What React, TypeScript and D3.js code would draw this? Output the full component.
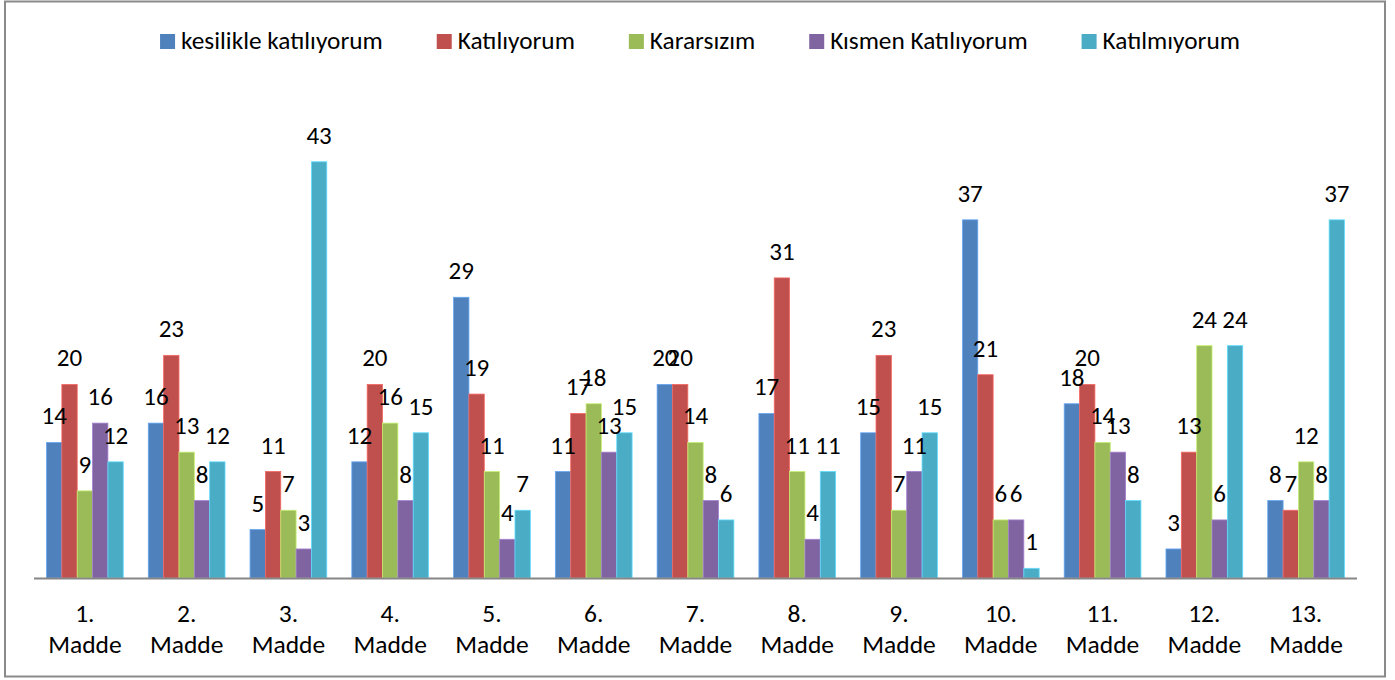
import React, { useEffect, useRef } from "react";
import * as d3 from "d3";

const categories = ["1.", "2.", "3.", "4.", "5.", "6.", "7.", "8.", "9.", "10.", "11.", "12.", "13."];
const seriesNames = ["kesilikle katılıyorum", "Katılıyorum", "Kararsızım", "Kısmen Katılıyorum", "Katılmıyorum"];
const kesinlikle = [14, 16, 5, 12, 29, 11, 20, 17, 15, 37, 18, 3, 8];
const katiliyorum = [20, 23, 11, 20, 19, 17, 20, 31, 23, 21, 20, 13, 7];
const kararsizim = [9, 13, 7, 16, 11, 18, 14, 11, 7, 6, 14, 24, 12];
const kismen = [16, 8, 3, 8, 4, 13, 8, 4, 11, 6, 13, 6, 8];
const katilmiyorum = [12, 12, 43, 15, 7, 15, 6, 11, 15, 1, 8, 24, 37];
const colors = ["#4F81BD", "#C0504D", "#9BBB59", "#8064A2", "#4BACC6"];

const W = 1395;
const H = 680;
const FONT = "Calibri, Carlito, Lato, sans-serif";

export default function App() {
  const ref = useRef<SVGSVGElement>(null);
  useEffect(() => {
    document.body.style.margin = "0";
    const svg = d3.select(ref.current);
    svg.selectAll("*").remove();
    const series = [kesinlikle, katiliyorum, kararsizim, kismen, katilmiyorum];

    svg.append("rect").attr("x", 5).attr("y", 1.5).attr("width", 1380).attr("height", 675)
      .attr("fill", "#fff").attr("stroke", "#8a8a8a").attr("stroke-width", 2);

    const x0 = d3.scaleBand<string>().domain(categories).range([34, 1357]).paddingInner(0.246).paddingOuter(0.123);
    const x1 = d3.scaleBand<number>().domain(d3.range(series.length)).range([0, x0.bandwidth()]);
    const y = d3.scaleLinear().domain([0, 50]).range([578, 94]);

    const g = svg.append("g");
    categories.forEach((c, i) => {
      series.forEach((s, k) => {
        const v = s[i];
        const bx = (x0(c) as number) + (x1(k) as number);
        g.append("rect").attr("x", bx).attr("y", y(v)).attr("width", x1.bandwidth())
          .attr("height", y(0) - y(v)).attr("fill", colors[k])
          .attr("stroke", d3.color(colors[k])!.brighter(0.7).formatHex()).attr("stroke-width", 0.8);
      });
    });
    categories.forEach((c, i) => {
      series.forEach((s, k) => {
        const v = s[i];
        const cx = (x0(c) as number) + (x1(k) as number) + x1.bandwidth() / 2;
        g.append("text").attr("x", cx).attr("y", y(v) - 18).attr("text-anchor", "middle")
          .attr("font-family", FONT).attr("font-size", 25).attr("fill", "#000").text(String(v));
      });
    });

    svg.append("line").attr("x1", 34).attr("x2", 1357).attr("y1", 578.5).attr("y2", 578.5)
      .attr("stroke", "#868686").attr("stroke-width", 2);

    categories.forEach((c) => {
      const cx = (x0(c) as number) + x0.bandwidth() / 2;
      const t = svg.append("text").attr("text-anchor", "middle").attr("font-family", FONT)
        .attr("font-size", 25.5).attr("fill", "#000");
      t.append("tspan").attr("x", cx).attr("y", 622).text(c);
      t.append("tspan").attr("x", cx).attr("y", 653).text("Madde");
    });

    // legend
    const lg = svg.append("g");
    const items = seriesNames.map((name, k) => {
      const it = lg.append("g");
      it.append("rect").attr("x", 0).attr("y", 34).attr("width", 15).attr("height", 15).attr("fill", colors[k]);
      const t = it.append("text").attr("x", 21).attr("y", 49).attr("font-family", FONT)
        .attr("font-size", 25.3).attr("fill", "#000").text(name);
      const w = 21 + (t.node() as SVGTextElement).getComputedTextLength();
      return { it, w };
    });
    const gap = 54;
    const total = d3.sum(items, (d) => d.w) + gap * (items.length - 1);
    let pos = 700 - total / 2;
    items.forEach((d) => {
      d.it.attr("transform", `translate(${pos},0)`);
      pos += d.w + gap;
    });
  }, []);
  return <svg ref={ref} width={W} height={H} style={{ display: "block" }} />;
}
